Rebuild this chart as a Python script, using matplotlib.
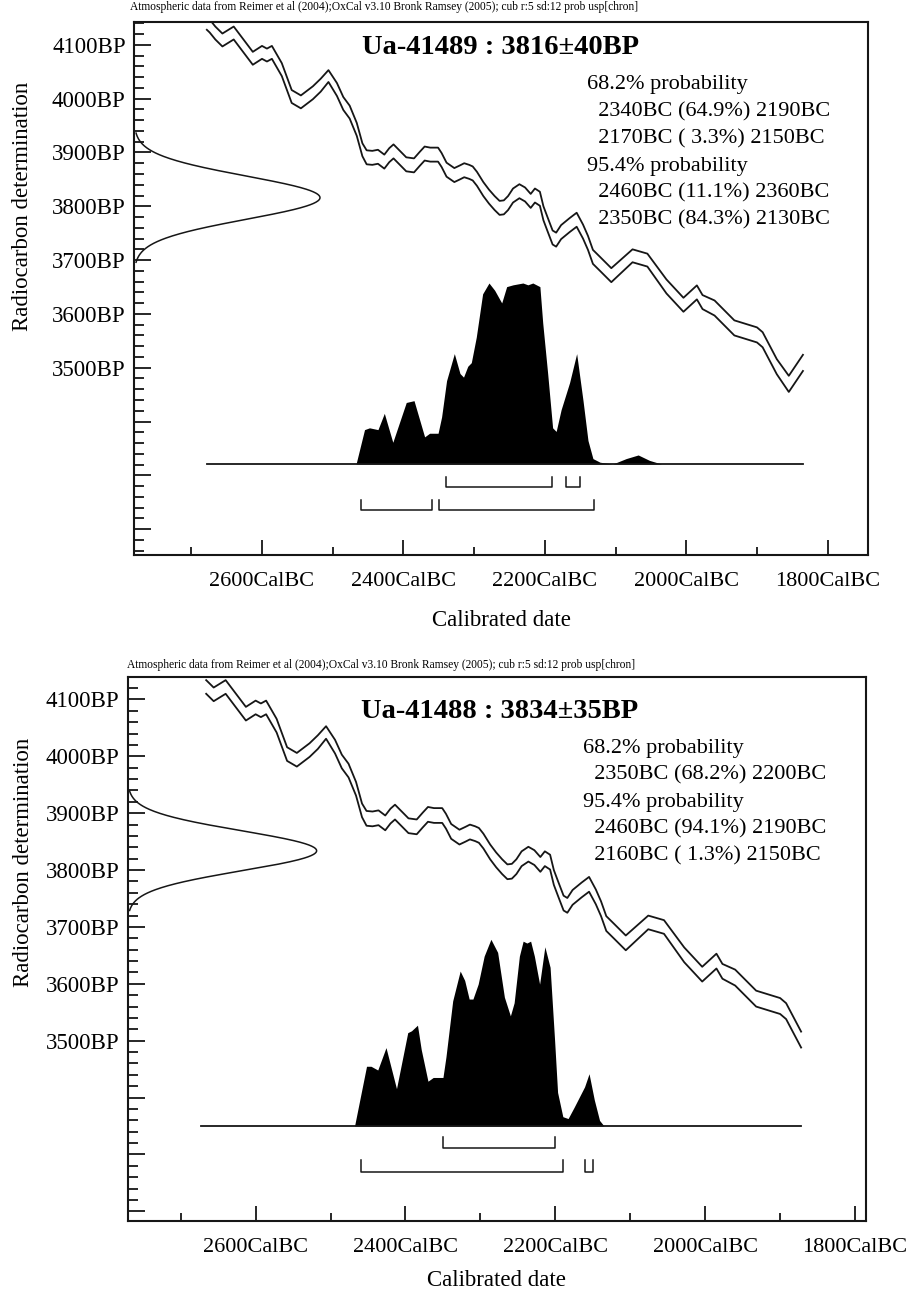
import numpy as np
import matplotlib.pyplot as plt
from matplotlib import transforms
from matplotlib.ticker import MultipleLocator, FuncFormatter

plt.rcParams['font.family'] = ['Liberation Serif', 'DejaVu Serif']

header = ("Atmospheric data from Reimer et al (2004);OxCal v3.10 Bronk Ramsey (2005); "
          "cub r:5 sd:12 prob usp[chron]")

# calibration curve (cal BC, BP, 1 sigma)
curve_bc = [2678, 2674, 2666, 2656, 2640, 2613, 2600, 2593, 2586, 2572,
            2558, 2545, 2528, 2517, 2506, 2494, 2485, 2476, 2466, 2458,
            2452, 2444, 2436, 2427, 2420, 2414, 2405, 2396, 2385, 2377,
            2370, 2362, 2351, 2346, 2339, 2328, 2320, 2314, 2307, 2302,
            2296, 2287, 2279, 2271, 2264, 2258, 2252, 2245, 2236, 2228,
            2220, 2214, 2207, 2202, 2196, 2189, 2184, 2177, 2165, 2155,
            2146, 2139, 2132, 2122, 2106, 2076, 2055, 2028, 2004, 1985,
            1977, 1960, 1932, 1900, 1892, 1872, 1855, 1835]
curve_bp = [4140, 4135, 4122, 4109, 4122, 4075, 4086, 4081, 4086, 4054,
            4004, 3994, 4011, 4025, 4042, 4017, 3991, 3975, 3943, 3905,
            3891, 3890, 3892, 3883, 3895, 3902, 3890, 3878, 3876, 3888,
            3898, 3896, 3896, 3886, 3868, 3858, 3863, 3867, 3864, 3861,
            3851, 3832, 3818, 3806, 3797, 3798, 3806, 3820, 3828, 3822,
            3810, 3820, 3814, 3787, 3766, 3742, 3738, 3752, 3765, 3775,
            3753, 3732, 3706, 3693, 3672, 3708, 3700, 3651, 3617, 3640,
            3622, 3611, 3574, 3561, 3552, 3502, 3470, 3509]
curve_sd = [12, 12, 12, 12, 12, 12, 12, 12, 12, 12,
            12, 12, 12, 12, 11, 12, 12, 12, 12, 12,
            13, 13, 13, 13, 13, 13, 13, 13, 13, 13,
            13, 13, 13, 13, 13, 13, 13, 13, 13, 13,
            13, 13, 13, 13, 13, 13, 13, 13, 13, 13,
            13, 13, 13, 13, 13, 13, 13, 13, 13, 13,
            13, 13, 13, 13, 13, 12, 12, 13, 13, 13,
            13, 14, 14, 14, 14, 14, 15, 15]

# Ua-41489
s1_name = "Ua-41489 : 3816\u00b140BP"
s1_bp, s1_sd = 3816, 40
s1_prob_bc = [2530, 2467, 2455, 2448, 2436, 2427, 2415, 2396, 2385, 2370, 2363, 2351, 2346,
              2339, 2328, 2320, 2315, 2309, 2304, 2297, 2288, 2279, 2271, 2261, 2254, 2245,
              2231, 2224, 2217, 2207, 2203, 2196, 2189, 2184, 2177, 2165, 2155, 2146, 2139,
              2132, 2122, 2104, 2085, 2068, 2052, 2035, 1900]
s1_prob = [0, 0, 0.19, 0.20, 0.19, 0.28, 0.12, 0.34, 0.35, 0.15, 0.17, 0.17, 0.26,
           0.46, 0.61, 0.50, 0.48, 0.54, 0.56, 0.70, 0.94, 1.00, 0.96, 0.89, 0.98, 0.99,
           1.00, 0.99, 1.00, 0.98, 0.78, 0.50, 0.20, 0.18, 0.30, 0.45, 0.61, 0.35, 0.13,
           0.03, 0.01, 0, 0.03, 0.05, 0.02, 0, 0]
s1_r68 = [(2340, 2190), (2170, 2150)]
s1_r95 = [(2460, 2360), (2350, 2130)]
s1_lines = ["68.2% probability", "  2340BC (64.9%) 2190BC", "  2170BC ( 3.3%) 2150BC",
            "95.4% probability", "  2460BC (11.1%) 2360BC", "  2350BC (84.3%) 2130BC"]

# Ua-41488
s2_name = "Ua-41488 : 3834\u00b135BP"
s2_bp, s2_sd = 3834, 35
s2_prob_bc = [2530, 2468, 2461, 2452, 2446, 2437, 2426, 2412, 2397, 2392, 2384, 2379, 2370,
              2363, 2350, 2346, 2337, 2327, 2321, 2315, 2310, 2303, 2295, 2286, 2277, 2268,
              2260, 2255, 2248, 2243, 2238, 2233, 2228, 2221, 2214, 2207, 2201, 2197, 2190,
              2183, 2175, 2161, 2155, 2148, 2141, 2135, 1900]
s2_prob = [0, 0, 0.14, 0.32, 0.32, 0.30, 0.42, 0.20, 0.50, 0.51, 0.54, 0.41, 0.24,
           0.26, 0.26, 0.37, 0.67, 0.83, 0.78, 0.68, 0.68, 0.76, 0.91, 1.00, 0.93, 0.69,
           0.59, 0.66, 0.91, 0.99, 0.98, 0.99, 0.91, 0.76, 0.96, 0.85, 0.46, 0.18, 0.05,
           0.04, 0.10, 0.21, 0.28, 0.14, 0.03, 0.0, 0]
s2_r68 = [(2350, 2200)]
s2_r95 = [(2460, 2190), (2160, 2150)]
s2_lines = ["68.2% probability", "  2350BC (68.2%) 2200BC",
            "95.4% probability", "  2460BC (94.1%) 2190BC", "  2160BC ( 1.3%) 2150BC"]

W, H = 913, 1295
fig = plt.figure(figsize=(W / 100, H / 100), dpi=100)
fig.patch.set_facecolor('white')


def px(x, y):
    return x / W, 1 - y / H


def panel(box, xlim, ylim, crange, name, bp, sd, pbc, prob, r68, r95, lines,
          base, hgt, gw, rows, tick_h, title_xy, text_xy, head_xy, ylab_xy, xlab_y):
    l, t, r, b = box
    ax = fig.add_axes([l / W, 1 - b / H, (r - l) / W, (b - t) / H])
    ax.set_xlim(*xlim)
    ax.set_ylim(*ylim)
    ink = '#161616'

    # calibration curve, +/- 1 sigma
    cbc = np.array(curve_bc)
    keep = (cbc <= crange[0]) & (cbc >= crange[1])
    mid = np.array(curve_bp)[keep]
    err = np.array(curve_sd)[keep]
    ax.plot(cbc[keep], mid + err, color=ink, lw=1.3)
    ax.plot(cbc[keep], mid - err, color=ink, lw=1.3)

    # radiocarbon measurement on the y axis
    tr_y = transforms.blended_transform_factory(ax.transAxes, ax.transData)
    yy = np.linspace(bp - 3 * sd, bp + 3 * sd, 300)
    gx = gw * np.exp(-0.5 * ((yy - bp) / sd) ** 2)
    ax.plot(gx, yy, color=ink, lw=1.1, transform=tr_y)

    # calibrated distribution
    tr_x = transforms.blended_transform_factory(ax.transData, ax.transAxes)
    p = np.array(prob)
    ax.fill_between(pbc, base, base + hgt * p, color='black', lw=0, transform=tr_x)
    ax.plot(crange, [base, base], color=ink, lw=1.3, transform=tr_x)

    # range brackets
    for yb, ranges in zip(rows, [r68, r95]):
        for a, c in ranges:
            ax.plot([a, a, c, c], [yb + tick_h, yb, yb, yb + tick_h], color=ink,
                    lw=1.1, transform=tr_x)

    # axes
    for s in ax.spines.values():
        s.set_linewidth(1.5)
        s.set_color(ink)
    ax.xaxis.set_major_locator(MultipleLocator(200))
    ax.xaxis.set_minor_locator(MultipleLocator(100))
    ax.xaxis.set_major_formatter(FuncFormatter(lambda v, pos: f"{int(round(v))}CalBC"))
    ax.yaxis.set_major_locator(MultipleLocator(100))
    ax.yaxis.set_minor_locator(MultipleLocator(20))
    ax.yaxis.set_major_formatter(
        FuncFormatter(lambda v, pos: f"{int(round(v))}BP" if v >= 3500 else ""))
    ax.tick_params(axis='x', which='both', direction='in', top=False, bottom=True,
                   labelsize=16, pad=12, color=ink, width=1.3)
    ax.tick_params(axis='x', which='major', length=11)
    ax.tick_params(axis='x', which='minor', length=6)
    ax.tick_params(axis='y', which='both', direction='in', right=False, left=True,
                   labelsize=16.5, pad=6, color=ink, width=1.3)
    ax.tick_params(axis='y', which='major', length=12)
    ax.tick_params(axis='y', which='minor', length=7)

    ax.set_ylabel("Radiocarbon determination", fontsize=16.5, va='center')
    ax.yaxis.set_label_coords((ylab_xy[0] - l) / (r - l), (b - ylab_xy[1]) / (b - t))
    ax.set_xlabel("Calibrated date", fontsize=16.5, va='center')
    ax.xaxis.set_label_coords(0.5, (b - xlab_y) / (b - t))

    fig.text(*px(*head_xy), header, fontsize=8.3, ha='left', va='center')
    fig.text(*px(*title_xy), name, fontsize=20.5, fontweight='bold', ha='center',
             va='center')
    for i, s in enumerate(lines):
        fig.text(*px(text_xy[0], text_xy[1] + i * 27), s, fontsize=16, ha='left',
                 va='center')
    return ax


panel((134, 21.7, 868, 555), (2781, 1743), (3152, 4143), (2678, 1835),
      s1_name, s1_bp, s1_sd, s1_prob_bc, s1_prob, s1_r68, s1_r95, s1_lines,
      0.1706, 0.3394, 0.2534, (0.128, 0.0844), 0.019,
      (501, 47), (587, 85), (130, 7), (22, 206), 620)

panel((127.5, 677.3, 866.3, 1221), (2771, 1785), (3183, 4139), (2673, 1872),
      s2_name, s2_bp, s2_sd, s2_prob_bc, s2_prob, s2_r68, s2_r95, s2_lines,
      0.1747, 0.3434, 0.256, (0.1337, 0.0907), 0.0206,
      (500, 712), (583, 748), (127, 665), (23, 862), 1280)

fig.savefig("out.png", dpi=100, facecolor='white')
